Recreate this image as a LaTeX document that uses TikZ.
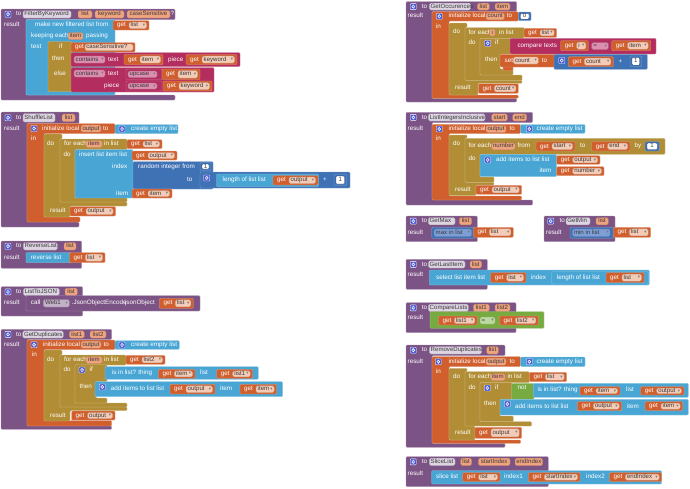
\documentclass[tikz,border=0pt]{standalone}
\usepackage{fontspec}
\setmainfont{Liberation Sans}
\newfontfamily\dvfont{DejaVu Sans}
\definecolor{pur}{HTML}{7C5385}
\definecolor{org}{HTML}{D05F2D}
\definecolor{gld}{HTML}{B18E35}
\definecolor{lbl}{HTML}{49A6D4}
\definecolor{mth}{HTML}{3F71B5}
\definecolor{txt}{HTML}{B32D5E}
\definecolor{lgc}{HTML}{77AB41}
\definecolor{gearc}{HTML}{4B57D4}
\definecolor{fget}{HTML}{F4CBB6}
\definecolor{fpar}{HTML}{EFA37E}
\definecolor{fnam}{HTML}{DDD5E2}
\definecolor{ftxt}{HTML}{DC8FB0}
\definecolor{fmth}{HTML}{7E9FD6}
\definecolor{flgc}{HTML}{BCD9A0}
\definecolor{fweb}{HTML}{C2B1C8}
\definecolor{fdtext}{HTML}{3A3A3A}
\definecolor{arcol}{HTML}{7A7A7A}
\newcounter{nd}
\tikzset{
  blk/.style={fill=#1, draw=#1!62!white, line width=0.35, rounded corners=1},
  lb/.style={anchor=west, inner sep=0, text=white, text height=4.5pt, text depth=1.2pt, font=\fontsize{6.3}{7}\selectfont},
  ft/.style={anchor=west, inner sep=0, text=fdtext, text height=4.4pt, text depth=1.2pt, font=\fontsize{6.1}{7}\selectfont},
  fc/.style={inner sep=0, text=fdtext, text height=4.4pt, text depth=1.2pt, font=\fontsize{6.1}{7}\selectfont},
  ar/.style={inner sep=0, text=arcol, font=\dvfont\fontsize{4.5}{5}\selectfont},
  fbox/.style={fill=#1, draw=#1!78!black, line width=0.3, rounded corners=1.5},
}
\newcommand\qR[5]{\filldraw[blk=#1] ({#2},{#3}) rectangle ({#4},{#5});}
\newcommand\qP[2]{\filldraw[blk=#1] #2 -- cycle;}
\newcommand\qT[3]{\stepcounter{nd}\node[lb] (n\arabic{nd}) at ({#1},{#2}) {#3};}
\newcommand\qFd[6]{\filldraw[fbox=#1] ({#2},{#3}) rectangle ({#4},{#5});
  \stepcounter{nd}\node[ft] (n\arabic{nd}) at ({#2+1.5},{(#3+#5)/2}) {#6};
  \stepcounter{nd}\node[ar] (n\arabic{nd}) at ({#4-2.6},{(#3+#5)/2}) {▾};}
\newcommand\qFn[6]{\filldraw[fbox=#1] ({#2},{#3}) rectangle ({#4},{#5});
  \stepcounter{nd}\node[fc] (n\arabic{nd}) at ({(#2+#4)/2},{(#3+#5)/2}) {#6};}
\newcommand\qFl[6]{\filldraw[fbox=#1] ({#2},{#3}) rectangle ({#4},{#5});
  \stepcounter{nd}\node[ft] (n\arabic{nd}) at ({#2+1.2},{(#3+#5)/2}) {#6};}
\newcommand\qG[5]{\qR{org}{#1}{#2}{#3}{#4}\qT{#1+4}{(#2+#4)/2}{get}%
  \qFd{fget}{#1+16}{#2+1.5}{#3-2.5}{#4-1.5}{#5}}
\newcommand\qGn[5]{\qR{org}{#1}{#2}{#3}{#4}\qT{#1+4}{(#2+#4)/2}{get}%
  \qFl{fget}{#1+14}{#2+1.5}{#3-2}{#4-1.5}{#5}}
\newcommand\qGear[2]{\filldraw[fill=gearc, draw=white, line width=0.35, rounded corners=0.7] ({#1-3},{#2-3}) rectangle ({#1+3},{#2+3});
  \draw[white, line width=0.8, dash pattern=on 0.45pt off 0.45pt] ({#1},{#2}) circle (1.5);}
\newcommand\qNum[5]{\qR{mth}{#1}{#2}{#3}{#4}\filldraw[fill=white, draw=mth!60!black, line width=0.3, rounded corners=1] ({#1+2},{#2+1.5}) rectangle ({#3-2},{#4-1.5});
  \stepcounter{nd}\node[fc] (n\arabic{nd}) at ({(#1+#3)/2},{(#2+#4)/2}) {#5};}
\newcommand\qHd[7]{\qGear{#3}{(#1+#2)/2}\qT{#4}{(#1+#2)/2}{to}\qFl{fnam}{#5}{#1+1.5}{#6}{#2-1.5}{#7}}
\begin{document}
\begin{tikzpicture}[x=1pt,y=-1pt]
\useasboundingbox (0,0) rectangle (690,488);
\fill[white] (0,0) rectangle (690,488);

% ===== FilterByKeyword
\qP{pur}{(1,9)--(175,9)--(175,19.5)--(26,19.5)--(26,95)--(175,95)--(175,100)--(1,100)}
\qHd{9}{19.5}{8}{16}{23}{71}{FilterByKeyword}
\qFn{fpar}{78}{10.5}{92}{18}{list}
\qFn{fpar}{95}{10.5}{124}{18}{keyword}
\qFn{fpar}{127}{10.5}{170}{18}{caseSensitive}
\qT{170.5}{14.2}{?}
\qT{4}{24.5}{result}
\qR{lbl}{26}{19.5}{115}{95}
\qT{35}{25}{make new filtered list from}
\qG{113}{20.5}{149}{30}{list}
\qT{31}{36}{keeping each}
\qFn{fpar}{68}{32.5}{83}{39.5}{item}
\qT{86}{36}{passing}
\qT{31}{47}{test}
\qR{gld}{48}{41.5}{72}{91.5}
\qT{59}{46.5}{if}
\qT{52}{59}{then}
\qT{54}{73.5}{else}
\qGn{71}{42.5}{135}{52}{caseSensitive?}
\qR{txt}{71}{52.5}{240}{66.5}
\qFd{ftxt}{74}{56}{105}{63}{contains}
\qT{108}{59.5}{text}
\qG{124}{54.5}{163}{64.5}{item}
\qT{168}{59.5}{piece}
\qG{186}{54.5}{237}{64.5}{keyword}
\qR{txt}{71}{67.5}{214}{92}
\qFd{ftxt}{74}{70}{105}{77}{contains}
\qT{108}{73.5}{text}
\qR{txt}{126}{69}{162}{79.5}
\qFd{ftxt}{128}{71}{157}{77.5}{upcase}
\qG{162}{69}{200}{79.5}{item}
\qT{104}{85.5}{piece}
\qR{txt}{126}{81}{162}{91}
\qFd{ftxt}{128}{83}{157}{89}{upcase}
\qG{163}{81}{212}{91}{keyword}

% ===== ShuffleList
\qP{pur}{(1,112)--(79,112)--(79,123.5)--(27,123.5)--(27,222)--(79,222)--(79,227)--(1,227)}
\qHd{112}{123.5}{8}{16}{23}{55}{ShuffleList}
\qFn{fpar}{62}{114}{75}{121.5}{list}
\qT{4}{128.5}{result}
\qP{org}{(27,123.5)--(115,123.5)--(115,133.5)--(44,133.5)--(44,217)--(80,217)--(80,222)--(27,222)}
\qGear{34}{128.5}
\qT{42}{128.5}{initialize local}
\qFn{fpar}{81}{125}{101}{132}{output}
\qT{103}{128.5}{to}
\qR{lbl}{115}{124.5}{178}{133.5}
\qGear{122}{129}
\qT{131}{129}{create empty list}
\qT{31}{139}{in}
\qP{gld}{(44,134)--(62,134)--(62,139)--(60,139)--(60,202)--(127,202)--(127,206)--(70,206)--(70,217)--(44,217)}
\qT{47}{144}{do}
\qP{gld}{(60,139)--(127,139)--(127,149.5)--(75,149.5)--(75,197.5)--(127,197.5)--(127,202)--(60,202)}
\qT{64}{144}{for each}
\qFn{fpar}{86}{140.5}{102}{147.5}{item}
\qT{104}{144}{in list}
\qG{127}{139.5}{162}{148.5}{list}
\qT{63.5}{154.5}{do}
\qR{lbl}{75}{149.5}{133}{198}
\qT{79}{154.5}{insert list item  list}
\qG{132}{151}{177}{160}{output}
\qT{112}{166.5}{index}
\qR{mth}{133}{161.5}{213}{189}
\qT{138}{166.5}{random integer from}
\qNum{200}{162.5}{211}{170.5}{1}
\qT{187}{180}{to}
\qR{mth}{200}{172}{350}{188}
\qGear{206.7}{178}
\qR{lbl}{216.5}{174}{318.5}{186.5}
\qT{222.5}{180.2}{length of list  list}
\qG{273}{175.5}{318}{185}{output}
\qT{323}{180}{+}
\qNum{334}{174.5}{346.5}{185.5}{1}
\qT{116}{193.5}{item}
\qG{132}{189}{172}{198}{item}
\qT{50}{211}{result}
\qG{70}{206.5}{115.5}{216}{output}

% ===== ReverseList
\qR{pur}{1}{241}{81.7}{268.3}
\qHd{241}{251.5}{8}{16}{23.3}{57.3}{ReverseList}
\qFn{fpar}{64}{242.5}{76}{250}{list}
\qT{4}{257.5}{result}
\qR{lbl}{26}{252.7}{71.7}{262.7}
\qT{30.7}{257.7}{reverse list}
\qG{69.3}{252.7}{105}{262.7}{list}

% ===== ListToJSON
\qR{pur}{1}{286.7}{82.7}{316}
\qHd{286.7}{297}{8}{16}{23.3}{59.3}{ListToJSON}
\qFn{fpar}{65}{288.2}{77.3}{295.5}{list}
\qT{4}{302.7}{result}
\qR{pur}{26}{295.7}{200}{311}
\qT{30.7}{303.3}{call}
\qFd{fweb}{43.3}{299.5}{69.3}{307}{Web1}
\qT{71.7}{303.3}{.JsonObjectEncode}
\node[lb, anchor=east] (jsonobj) at (155,303.3) {jsonObject};
\qG{159.3}{298.3}{193.3}{308.3}{list}

% ===== GetDuplicates
\qP{pur}{(1,329.3)--(111.7,329.3)--(111.7,339.5)--(27,339.5)--(27,426)--(111.7,426)--(111.7,429.3)--(1,429.3)}
\qHd{329.3}{339.5}{8}{16}{22.7}{63.3}{GetDuplicates}
\qFn{fpar}{69.3}{330.8}{84.3}{338}{list1}
\qFn{fpar}{90}{330.8}{106}{338}{list2}
\qT{4}{344.5}{result}
\qP{org}{(27,340)--(115,340)--(115,349.5)--(44,349.5)--(44,420.5)--(111.7,420.5)--(111.7,426)--(27,426)}
\qGear{34}{344.7}
\qT{42.7}{344.7}{initialize local}
\qFn{fpar}{81}{341.2}{101}{348.2}{output}
\qT{103.3}{344.7}{to}
\qR{lbl}{115}{340.7}{179.3}{349.3}
\qGear{122}{345}
\qT{131}{345}{create empty list}
\qT{31.7}{355}{in}
\qP{gld}{(44,350)--(62,350)--(62,355)--(60,355)--(60,407)--(127,407)--(127,410.5)--(70,410.5)--(70,421)--(44,421)}
\qT{47}{360}{do}
\qP{gld}{(60,355)--(126,355)--(126,365)--(75,365)--(75,403)--(127,403)--(127,407)--(60,407)}
\qT{64}{360}{for each}
\qFn{fpar}{86}{356.5}{102}{363.5}{item}
\qT{104}{360}{in list}
\qG{126}{355.3}{165}{364.3}{list2}
\qT{63.5}{370}{do}
\qP{gld}{(75,364.5)--(107,364.5)--(107,381.5)--(96,381.5)--(96,398)--(107,398)--(107,403)--(75,403)}
\qGear{82}{370}
\qT{89.5}{370}{if}
\qT{79.3}{387}{then}
\qR{lbl}{105}{366.7}{258.3}{379.3}
\qT{111.7}{373}{is in list? thing}
\qG{158.3}{369.3}{195}{378.3}{item}
\qT{200}{373}{list}
\qG{216.7}{369.3}{252.7}{378.3}{list1}
\qR{lbl}{95}{381.7}{282.7}{396.7}
\qGear{102.3}{387}
\qT{110.7}{389}{add items to list  list}
\qG{170}{384.3}{215}{394}{output}
\qT{220}{389}{item}
\qG{240}{384.3}{276.7}{394}{item}
\qT{50}{415.7}{result}
\qG{71.5}{411}{115}{420}{output}

% ===== GetOccurences
\qP{pur}{(406,1.7)--(516.7,1.7)--(516.7,11.5)--(432,11.5)--(432,98.3)--(516.7,98.3)--(516.7,102)--(406,102)}
\qHd{1.7}{11.5}{413.3}{421.7}{429.3}{470.7}{GetOccurences}
\qFn{fpar}{477.3}{3.2}{489.3}{10}{list}
\qFn{fpar}{495}{3.2}{510}{10}{item}
\qT{407.5}{16.3}{result}
\qP{org}{(432,11.7)--(518.3,11.7)--(518.3,21)--(449,21)--(449,95)--(518.3,95)--(518.3,98.3)--(432,98.3)}
\qGear{439.3}{16.3}
\qT{448.3}{16.3}{initialize local}
\qFn{fpar}{486}{12.8}{504.3}{19.8}{count}
\qT{506.7}{16.3}{to}
\qNum{518.3}{12}{531}{20.7}{0}
\qT{435.7}{27.3}{in}
\qP{gld}{(449,23)--(467,23)--(467,27.5)--(465,27.5)--(465,80.5)--(522,80.5)--(522,83.3)--(478,83.3)--(478,95)--(449,95)}
\qT{453}{32}{do}
\qP{gld}{(465,27.5)--(524,27.5)--(524,38.3)--(480,38.3)--(480,75)--(522,75)--(522,80.5)--(465,80.5)}
\qT{468.5}{32.5}{for each}
\qFn{fpar}{489.5}{29}{495}{36}{i}
\qT{499}{32.5}{in list}
\qG{524}{28.3}{556.7}{37.3}{list}
\qT{468.5}{43.3}{do}
\qP{gld}{(480,38.3)--(511,38.3)--(511,54)--(500,54)--(500,69)--(513,69)--(513,75)--(480,75)}
\qGear{487.7}{43.3}
\qT{495}{43.3}{if}
\qT{485}{59.5}{then}
\qR{txt}{510}{38.3}{656}{54}
\qT{517.3}{46}{compare texts}
\qG{560.7}{40.7}{588.3}{50.7}{i}
\qFd{ftxt}{591.7}{42.5}{608.3}{49.5}{=}
\qG{611.7}{40.7}{650.7}{50.7}{item}
\qR{org}{503}{65}{513}{70.5}
\qR{org}{500}{54.3}{555}{67}
\qT{504.5}{60.5}{set}
\qFd{fget}{513.3}{57}{538.3}{64}{count}
\qT{541.7}{60.5}{to}
\qR{mth}{554}{54.3}{647.3}{69.3}
\qGear{561.7}{60.5}
\qG{568.3}{56.7}{613.3}{66.7}{count}
\qT{618.5}{61.7}{+}
\qNum{630}{56}{641.7}{66.7}{1}
\qT{455}{88.3}{result}
\qG{478.3}{83.8}{518.3}{93.3}{count}

% ===== ListIntegersInclusive
\qP{pur}{(406,112.3)--(532.7,112.3)--(532.7,122.5)--(432,122.5)--(432,200)--(532.7,200)--(532.7,205)--(406,205)}
\qHd{112.3}{122.5}{413.3}{421.7}{428.3}{485}{ListIntegersInclusive}
\qFn{fpar}{491.7}{113.8}{507.3}{121}{start}
\qFn{fpar}{512.7}{113.8}{526.7}{121}{end}
\qT{407.5}{129}{result}
\qP{org}{(432,124.3)--(520.7,124.3)--(520.7,133.5)--(449,133.5)--(449,196)--(521.7,196)--(521.7,200)--(432,200)}
\qGear{439.3}{129}
\qT{448.3}{129}{initialize local}
\qFn{fpar}{486}{125.5}{506}{132.5}{output}
\qT{509.3}{129}{to}
\qR{lbl}{520.7}{124.5}{585}{133.3}
\qGear{529.3}{129}
\qT{536.5}{129}{create empty list}
\qT{435.7}{139}{in}
\qP{gld}{(449,135)--(467,135)--(467,138.3)--(465,138.3)--(465,182.3)--(494,182.3)--(494,185)--(476,185)--(476,195.7)--(449,195.7)}
\qT{453}{144}{do}
\qP{gld}{(465,138.3)--(665,138.3)--(665,154.3)--(480,154.3)--(480,177)--(494,177)--(494,182.3)--(465,182.3)}
\qT{468.3}{146.3}{for each}
\qFn{fpar}{491.7}{142.8}{515}{149.8}{number}
\qT{517.3}{146.3}{from}
\qG{536}{141.7}{575}{151}{start}
\qT{580}{146.3}{to}
\qG{591.7}{141.7}{630}{151}{end}
\qT{634.3}{146.3}{by}
\qNum{645}{141.5}{659.3}{151}{1}
\qT{468.5}{159}{do}
\qR{lbl}{480}{154.3}{556.7}{176.7}
\qGear{487.7}{160}
\qT{496}{160}{add items to list  list}
\qG{556.7}{155.7}{600}{164.3}{output}
\qT{539.3}{171}{item}
\qG{556.7}{166.7}{604}{175.7}{number}
\qT{455}{190}{result}
\qG{476}{185.3}{521.7}{194.3}{output}

% ===== GetMax
\qR{pur}{406}{216}{477.3}{241.7}
\qHd{216}{226.3}{413.3}{421.7}{428.3}{455}{GetMax}
\qFn{fpar}{459.3}{217.5}{471.7}{224.8}{list}
\qT{407.5}{232.7}{result}
\qR{mth}{431.7}{227.3}{475}{238.3}
\qFd{fmth}{434}{229}{471.7}{236.5}{max in list}
\qG{473.3}{227.3}{513.3}{237.3}{list}

% ===== GetMin
\qR{pur}{544}{216}{615}{241.7}
\qHd{216}{226.3}{550.7}{559.3}{566}{590}{GetMin}
\qFn{fpar}{596}{217.5}{608.3}{224.8}{list}
\qT{546}{232.7}{result}
\qR{mth}{570}{227.3}{613.3}{238.3}
\qFd{fmth}{572.3}{229}{610}{236.5}{min in list}
\qG{613.3}{227.3}{650.7}{237.3}{list}

% ===== GetLastItem
\qR{pur}{406}{259.3}{487.3}{289.3}
\qHd{259.3}{269.5}{413.3}{421.7}{428.3}{465}{GetLastItem}
\qFn{fpar}{470}{260.8}{481.7}{268}{list}
\qT{407.5}{275}{result}
\qR{lbl}{429.3}{270}{649.3}{285}
\qT{436}{277.5}{select list item  list}
\qG{490.7}{272.7}{526}{282.7}{list}
\qT{530.7}{277.5}{index}
\qR{lbl}{551.7}{271.7}{648.3}{284}
\qT{556.7}{277.8}{length of list  list}
\qG{606}{272.7}{644}{282.7}{list}

% ===== CompareLists
\qR{pur}{406}{302.7}{516}{332.7}
\qHd{302.7}{313}{413.3}{421.7}{428.3}{468.3}{CompareLists}
\qFn{fpar}{473.3}{304.2}{489.3}{311.5}{list1}
\qFn{fpar}{495}{304.2}{510}{311.5}{list2}
\qT{407.5}{318.3}{result}
\qR{lgc}{430}{311.7}{544}{328.3}
\qG{438.3}{316}{477.3}{325}{list1}
\qFd{flgc}{480}{317}{495}{324}{=}
\qG{499.3}{316}{538.3}{325}{list2}

% ===== RemoveDuplicates
\qP{pur}{(406,345)--(505,345)--(505,355.5)--(432,355.5)--(432,443.3)--(505,443.3)--(505,447.3)--(406,447.3)}
\qHd{345}{355.5}{413.3}{421.7}{429.3}{481.7}{RemoveDuplicates}
\qFn{fpar}{486.7}{346.5}{498.3}{354}{list}
\qT{407.5}{361.7}{result}
\qP{org}{(432,356.7)--(520.7,356.7)--(520.7,366.5)--(449,366.5)--(449,440)--(520.7,440)--(520.7,443.3)--(432,443.3)}
\qGear{438.3}{361.7}
\qT{448.3}{361.7}{initialize local}
\qFn{fpar}{486}{358.2}{506}{365.2}{output}
\qT{509.3}{361.7}{to}
\qR{lbl}{520.7}{357}{585}{366.5}
\qGear{529.3}{361.7}
\qT{536.5}{361.7}{create empty list}
\qT{435.7}{372.3}{in}
\qP{gld}{(449,368.3)--(467,368.3)--(467,371.7)--(465,371.7)--(465,426)--(475,426)--(475,440)--(449,440)}
\qT{453}{376.7}{do}
\qP{gld}{(465,371.7)--(529.3,371.7)--(529.3,382.7)--(480,382.7)--(480,421.7)--(531.7,421.7)--(531.7,426)--(465,426)}
\qT{468.3}{377}{for each}
\qFn{fpar}{490.7}{373.5}{505}{380.5}{item}
\qT{507.3}{377}{in list}
\qG{529.3}{372.3}{566.7}{381.7}{list}
\qT{468.5}{388.3}{do}
\qP{gld}{(480,382.7)--(512,382.7)--(512,399.3)--(500,399.3)--(500,416)--(513.3,416)--(513.3,421.7)--(480,421.7)}
\qGear{487.3}{388}
\qT{495}{388}{if}
\qT{484}{403.5}{then}
\qR{lgc}{511.7}{383.3}{534}{399.3}
\qT{517.5}{388.3}{not}
\qR{lbl}{533.3}{383.3}{688.3}{397.3}
\qT{537.3}{390.3}{is in list? thing}
\qG{580}{386.7}{620}{395}{item}
\qT{626}{390.3}{list}
\qG{640.7}{386.7}{684}{395}{output}
\qR{lbl}{500}{399.3}{688.3}{415}
\qGear{507.3}{404}
\qT{515}{406.5}{add items to list  list}
\qG{577.3}{401.7}{621.7}{410.7}{output}
\qT{626.7}{406.5}{item}
\qG{645}{401.7}{682.7}{410.7}{item}
\qT{455}{432.7}{result}
\qG{475}{427.3}{521.7}{438.3}{output}

% ===== SliceList
\qR{pur}{406}{456.7}{548.3}{486.7}
\qHd{456.7}{467}{413.3}{421.7}{429.3}{455}{SliceList}
\qFn{fpar}{460.7}{458.2}{471.7}{465.5}{list}
\qFn{fpar}{478.3}{458.2}{510}{465.5}{startIndex}
\qFn{fpar}{515}{458.2}{542.7}{465.5}{endIndex}
\qT{407.5}{474}{result}
\qR{lbl}{431.7}{470.7}{661.7}{484}
\qT{436}{477.3}{slice list}
\qG{462.7}{472.7}{500}{481.7}{list}
\qT{504}{477.3}{index1}
\qG{528.3}{472.7}{580}{481.7}{startIndex}
\qT{586}{477.3}{index2}
\qG{609.3}{472.7}{661.7}{481.7}{endIndex}
\end{tikzpicture}
\end{document}
